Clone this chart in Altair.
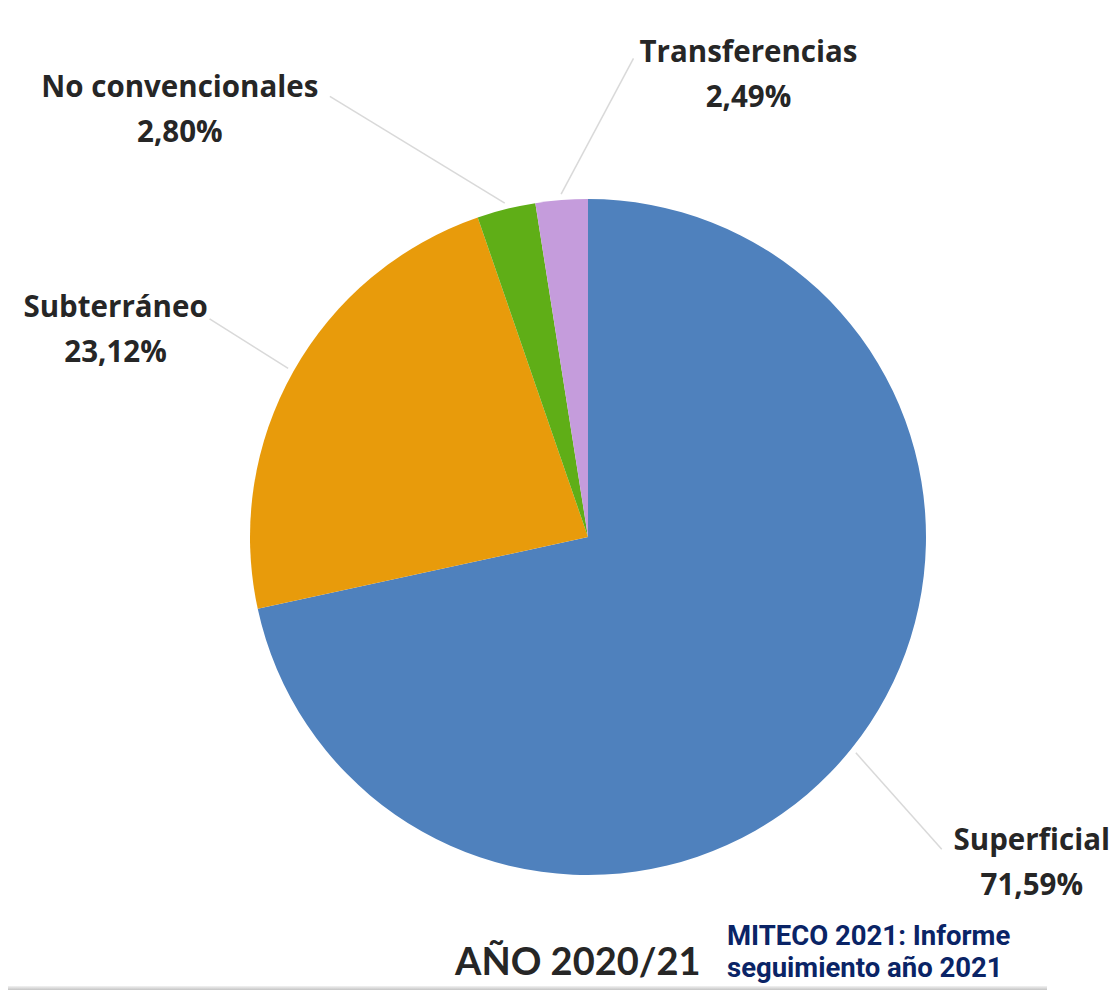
import altair as alt
import pandas as pd

# ---- data ----
categories = ["Superficial", "Subterráneo", "No convencionales", "Transferencias"]
shares = [71.59, 23.12, 2.80, 2.49]
share_labels = ["71,59%", "23,12%", "2,80%", "2,49%"]
colors = ["#4f81bd", "#e89b0b", "#5fae17", "#c59cdc"]

year_label = "AÑO 2020/21"
source_lines = ["MITECO 2021: Informe", "seguimiento año 2021"]

# ---- layout (pixels in the view) ----
W, H = 1104, 982
CX, CY, R = 580, 529, 338
LABEL_R = 480
LINE_H = 45
nudge_x = [70, -54, -292, 198]
nudge_y = [25, 29, 39, 17]
anchor_x = [-90, 94, 150, -115]
anchor_y = [-14, -12, -14, -17]

df = pd.DataFrame({
    "category": categories,
    "share": shares,
    "pct": share_labels,
    "order": list(range(len(categories))),
    "nx": nudge_x,
    "ny": nudge_y,
    "ax": anchor_x,
    "ay": anchor_y,
})

color_scale = alt.Scale(domain=categories, range=colors)

pie = alt.Chart(df).mark_arc(radius=R).encode(
    theta=alt.Theta("share:Q", stack=True),
    order=alt.Order("order:Q"),
    color=alt.Color("category:N", scale=color_scale, legend=None),
    x=alt.value(CX),
    y=alt.value(CY),
)

geo = (
    alt.Chart(df)
    .transform_joinaggregate(total="sum(share)")
    .transform_window(cum="sum(share)", sort=[alt.SortField("order")], frame=[None, 0])
    .transform_calculate(mid="(datum.cum - datum.share/2) / datum.total * 2 * PI")
    .transform_calculate(
        lx=f"{CX} + {LABEL_R} * sin(datum.mid) + datum.nx",
        ly=f"{CY} - {LABEL_R} * cos(datum.mid) + datum.ny",
        sx=f"{CX} + {R + 6} * sin(datum.mid)",
        sy=f"{CY} - {R + 6} * cos(datum.mid)",
    )
    .transform_calculate(
        ex="datum.lx + datum.ax",
        ey="datum.ly + datum.ay",
        ty=f"datum.ly - {LINE_H / 2}",
        label="datum.category + '\\n' + datum.pct",
    )
)

leaders = geo.mark_rule(color="#d9d9d9", strokeWidth=1.5).encode(
    x=alt.X("sx:Q", scale=None),
    y=alt.Y("sy:Q", scale=None),
    x2="ex:Q",
    y2="ey:Q",
)

labels = geo.mark_text(
    lineBreak="\n",
    font="Open Sans",
    fontWeight="bold",
    fontSize=29.5,
    lineHeight=LINE_H,
    align="center",
    baseline="middle",
    color="#262626",
).encode(
    x=alt.X("lx:Q", scale=None),
    y=alt.Y("ty:Q", scale=None),
    text="label:N",
)

one = pd.DataFrame({"t": [year_label]})
year = alt.Chart(one).mark_text(
    font="Lato", fontWeight="bold", fontSize=38, align="left", baseline="alphabetic", color="#262626"
).encode(x=alt.value(447), y=alt.value(967), text="t:N")

src1 = alt.Chart(pd.DataFrame({"t": [source_lines[0]]})).mark_text(
    font="Roboto", fontWeight="bold", fontSize=27.5, align="left",
    baseline="alphabetic", color="#0a2466",
).encode(x=alt.value(719), y=alt.value(937), text="t:N")

src2 = alt.Chart(pd.DataFrame({"t": [source_lines[1]]})).mark_text(
    font="Roboto", fontWeight="bold", fontSize=27.5, align="left",
    baseline="alphabetic", color="#0a2466",
).encode(x=alt.value(719), y=alt.value(969), text="t:N")

bar = alt.Chart(pd.DataFrame({"a": [0]})).mark_rect(
    color=alt.Gradient(
        gradient="linear", x1=0, y1=0, x2=0, y2=1,
        stops=[alt.GradientStop(color="#f2f2f2", offset=0), alt.GradientStop(color="#c4c4c4", offset=1)],
    )
).encode(x=alt.value(0), x2=alt.value(1039), y=alt.value(978), y2=alt.value(982))

chart = (
    alt.layer(pie, leaders, labels, year, src1, src2, bar)
    .properties(width=W, height=H, padding=0, autosize=alt.AutoSizeParams(type="none"), background="#ffffff")
    .configure_view(stroke=None)
)

chart.save("out.html", embed_options={"renderer": "svg", "actions": False})
